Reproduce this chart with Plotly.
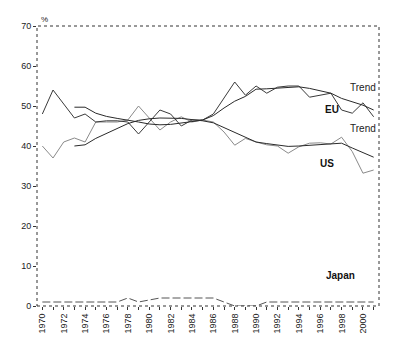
import plotly.graph_objects as go

years = list(range(1970, 2002))

eu_actual = [48, 54, 50.5, 47, 48, 46, 46.3, 46.3, 46, 43, 46, 49, 48, 45, 46.5, 46.5,
             48, 52, 56, 52.7, 55, 53.2, 54.7, 55, 55, 52.2, 52.7, 53.2, 49, 48.2, 50.8, 47.3]
us_actual = [40, 37, 41, 42, 41, 46, 46, 46, 46.5, 50, 47, 44, 46, 47.3, 46, 46.5,
             46, 43.5, 40.2, 41.9, 41, 40.3, 40, 38.2, 39.8, 40.7, 40.8, 40.5, 42.2, 38.6, 33.2, 34]
trend_years = list(range(1973, 2002))
eu_trend = [49.7, 49.7, 48.2, 47.4, 46.9, 46.5, 46.0, 45.5, 45.3, 45.4, 45.7, 46.1, 46.5,
            47.6, 49.5, 51.2, 52.4, 54.2, 54.3, 54.5, 54.7, 54.8, 54.4, 53.8, 53.2, 51.9, 51.1, 50.2, 49.0]
us_trend = [40.0, 40.3, 41.9, 43.2, 44.5, 45.6, 46.4, 46.8, 47.0, 47.0, 46.9, 46.6, 46.3,
            45.8, 44.6, 43.3, 42.3, 41.0, 40.6, 40.2, 39.9, 40.0, 40.2, 40.3, 40.5, 40.7, 39.5, 38.3, 37.2]
japan = [1, 1, 1, 1, 1, 1, 1, 1, 2, 1, 1.5, 2, 2, 2, 2, 2,
         2, 1, 0, 0, 0, 1, 1, 1, 1, 1, 1, 1, 1, 1, 1, 1]

fig = go.Figure()
fig.add_trace(go.Scatter(x=years, y=us_actual, mode="lines", line=dict(color="#8a8a8a", width=1)))
fig.add_trace(go.Scatter(x=years, y=eu_actual, mode="lines", line=dict(color="#3a3a3a", width=1)))
fig.add_trace(go.Scatter(x=trend_years, y=us_trend, mode="lines", line=dict(color="#2a2a2a", width=1)))
fig.add_trace(go.Scatter(x=trend_years, y=eu_trend, mode="lines", line=dict(color="#2a2a2a", width=1)))
fig.add_trace(go.Scatter(x=years, y=japan, mode="lines", line=dict(color="#555555", width=1, dash="8px,3px")))

fam = "Liberation Sans, Arial, sans-serif"
font = dict(family=fam, size=9, color="#222")
ann = []
ann.append(dict(x=2000.0, y=54.75, text="Trend", showarrow=False, font=dict(family=fam, size=10, color="#222")))
ann.append(dict(x=1997.1, y=49.2, text="<b>EU</b>", showarrow=False, font=dict(family=fam, size=10, color="#111")))
ann.append(dict(x=2000.0, y=44.4, text="Trend", showarrow=False, font=dict(family=fam, size=10, color="#222")))
ann.append(dict(x=1996.6, y=35.7, text="<b>US</b>", showarrow=False, font=dict(family=fam, size=10, color="#111")))
ann.append(dict(x=1997.9, y=7.75, text="<b>Japan</b>", showarrow=False, font=dict(family=fam, size=10, color="#111")))
ann.append(dict(xref="paper", yref="paper", x=0.005, y=1.0, yshift=13, xanchor="left", text="%",
                showarrow=False, font=dict(family=fam, size=8, color="#222")))

fig.update_layout(
    width=412, height=349,
    margin=dict(l=29, r=41, t=18, b=51),
    paper_bgcolor="white", plot_bgcolor="white",
    showlegend=False,
    font=font,
    annotations=ann,
    shapes=[dict(type="rect", xref="paper", yref="paper", x0=0, y0=0, x1=1, y1=1,
                 line=dict(color="#333", width=1, dash="dot"), layer="above")],
    xaxis=dict(range=[1969.5, 2001.5], tick0=1970, dtick=2, ticks="outside", ticklen=3,
               tickcolor="#333", tickangle=-90, showgrid=False, zeroline=False, showline=False,
               tickfont=dict(family=fam, size=9, color="#222"),
               minor=dict(dtick=1, tick0=1970, ticks="outside", ticklen=3, tickcolor="#333", showgrid=False)),
    yaxis=dict(range=[0, 70], dtick=10, ticks="outside", ticklen=3, tickcolor="#333",
               showgrid=False, zeroline=False, showline=False,
               tickfont=dict(family=fam, size=9, color="#222")),
)
fig.write_html("out.html")
